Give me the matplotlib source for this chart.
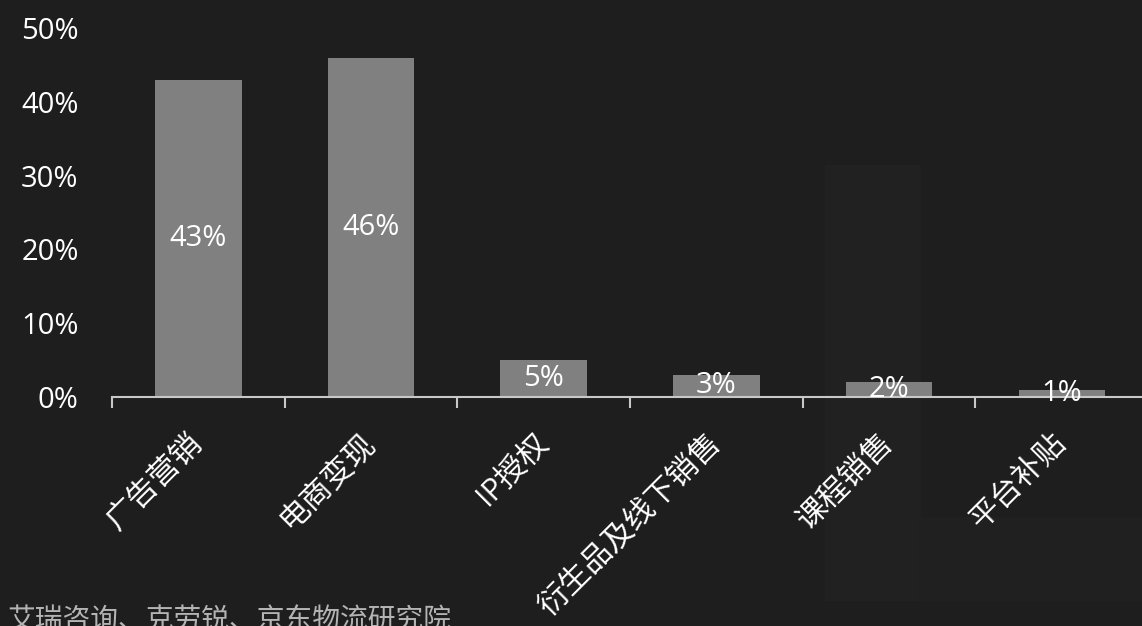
import matplotlib.pyplot as plt
from matplotlib.patches import Rectangle

plt.rcParams['font.family'] = ['Open Sans', 'Noto Sans CJK SC', 'DejaVu Sans']

categories = ["广告营销", "电商变现", "IP授权", "衍生品及线下销售", "课程销售", "平台补贴"]
shares = [0.43, 0.46, 0.05, 0.03, 0.02, 0.01]
y_ticks = [0, 0.1, 0.2, 0.3, 0.4, 0.5]
source = "艾瑞咨询、克劳锐、京东物流研究院"

bg = "#1e1e1e"
fig = plt.figure(figsize=(11.42, 6.26), dpi=100, facecolor=bg)

# faint shapes in the background
fig.patches.append(Rectangle((825 / 1142, 1 - 600 / 626), 95 / 1142, 435 / 626,
                             transform=fig.transFigure, color="#212121", zorder=0))
fig.patches.append(Rectangle((920 / 1142, 1 - 600 / 626), 222 / 1142, 83 / 626,
                             transform=fig.transFigure, color="#202020", zorder=0))

ax = fig.add_axes([112 / 1142, 1 - 397 / 626, 1036 / 1142, 369 / 626])
ax.set_facecolor("none")
ax.set_zorder(2)

x = list(range(len(categories)))
bars = ax.bar(x, shares, width=0.5, color="#808080", zorder=2)

for xi, v in zip(x, shares):
    ax.text(xi, v / 2, f"{v:.0%}", ha="center", va="center",
            color="white", fontsize=21, zorder=3)

ax.set_xlim(-0.5, len(categories) - 0.5)
ax.set_ylim(0, 0.5)

for s in ["top", "right", "left"]:
    ax.spines[s].set_visible(False)
ax.spines["bottom"].set_color("#c8c8c8")
ax.spines["bottom"].set_linewidth(1.5)

ax.set_yticks(y_ticks)
ax.set_yticklabels([f"{t:.0%}" for t in y_ticks])
ax.tick_params(axis="y", length=0, pad=24, labelsize=21, labelcolor="white")

ax.set_xticks(x)
ax.set_xticklabels(categories, rotation=45, ha="right", va="center",
                   rotation_mode="anchor")
ax.tick_params(axis="x", which="major", length=0, pad=30, labelsize=22,
               labelcolor="white")
ax.set_xticks([i - 0.5 for i in range(len(categories) + 1)], minor=True)
ax.tick_params(axis="x", which="minor", length=8, width=1.5, color="#c8c8c8")

fig.text(8 / 1142, 1 - 608 / 626, source, ha="left", va="top",
         fontsize=20, color="#b4b4b4", style="italic")

fig.savefig("out.png", dpi=100, facecolor=bg)
